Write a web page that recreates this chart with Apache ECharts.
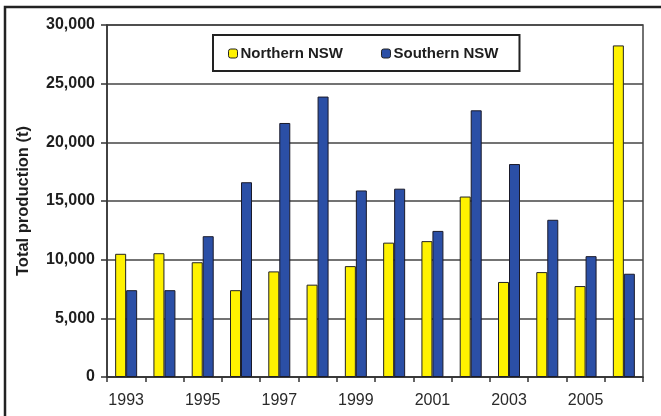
<!DOCTYPE html>
<html>
<head>
<meta charset="utf-8">
<script src="https://cdn.jsdelivr.net/npm/echarts@6/dist/echarts.min.js"></script>
<style>
  html, body { margin: 0; padding: 0; background: #fff; }
  #chart { width: 661px; height: 416px; }
</style>
</head>
<body>
<div id="chart"></div>
<script>
// Annual production by region, 1993–2006 (tonnes)
const years = ['1993', '1994', '1995', '1996', '1997', '1998', '1999',
               '2000', '2001', '2002', '2003', '2004', '2005', '2006'];
const northernNSW = [10500, 10550, 9780, 7400, 9000, 7870, 9450,
                     11450, 11580, 15380, 8100, 8940, 7750, 28260];
const southernNSW = [7400, 7400, 12000, 16600, 21650, 23900, 15900,
                     16050, 12450, 22730, 18150, 13400, 10300, 8800];
const seriesNames = ['Northern NSW', 'Southern NSW'];
const yTicks = { min: 0, max: 30000, interval: 5000 };

const FONT = '"Liberation Sans", Arial, sans-serif';
const INK = '#1e1e1e';

const chart = echarts.init(document.getElementById('chart'), null, { renderer: 'canvas' });

chart.setOption({
  animation: false,
  backgroundColor: '#fff',
  graphic: [{
    type: 'rect',
    shape: { x: 5, y: 7, width: 720, height: 460 },
    style: { fill: 'none', stroke: '#222', lineWidth: 2.5 },
    silent: true
  }],
  legend: {
    data: seriesNames,
    left: 213,
    top: 35,
    padding: [11, 21, 10, 15],
    itemGap: 38,
    itemWidth: 9,
    itemHeight: 9,
    borderColor: '#222',
    borderWidth: 2,
    backgroundColor: '#fff',
    textStyle: { fontFamily: FONT, fontWeight: 'bold', fontSize: 15, color: INK, padding: [0, 0, 0, -2] },
    itemStyle: { borderColor: '#222', borderWidth: 1 }
  },
  grid: {
    left: 107, top: 25, width: 536, height: 352,
    show: true, borderColor: '#444', borderWidth: 1.5, containLabel: false
  },
  xAxis: {
    type: 'category',
    data: years,
    axisLine: { lineStyle: { color: '#333', width: 1.5 } },
    axisTick: { show: true, interval: 0, length: 5, alignWithLabel: false, lineStyle: { color: '#333', width: 1.5 } },
    axisLabel: { interval: 1, fontFamily: FONT, fontSize: 16, color: '#2a2a2a', margin: 16 }
  },
  yAxis: {
    type: 'value',
    min: yTicks.min,
    max: yTicks.max,
    interval: yTicks.interval,
    name: 'Total production (t)',
    nameLocation: 'middle',
    nameGap: 75,
    nameTextStyle: { fontFamily: FONT, fontWeight: 'bold', fontSize: 16.5, color: INK },
    axisLine: { show: true, lineStyle: { color: '#333', width: 1.5 } },
    axisTick: { show: true, length: 6, lineStyle: { color: '#333', width: 1.5 } },
    splitLine: { lineStyle: { color: '#444', width: 1.5 } },
    axisLabel: {
      fontFamily: FONT, fontWeight: 'bold', fontSize: 16, color: INK, margin: 12,
      formatter: v => v.toLocaleString('en-US')
    }
  },
  series: [
    {
      name: seriesNames[0],
      type: 'bar',
      data: northernNSW,
      barWidth: 11,
      barGap: '0%',
      itemStyle: { color: '#fff200', borderColor: '#222', borderWidth: 1 }
    },
    {
      name: seriesNames[1],
      type: 'bar',
      data: southernNSW,
      barWidth: 11,
      barGap: '0%',
      itemStyle: { color: '#2b4fa6', borderColor: '#1a1a2a', borderWidth: 1 }
    }
  ]
});
</script>
</body>
</html>
